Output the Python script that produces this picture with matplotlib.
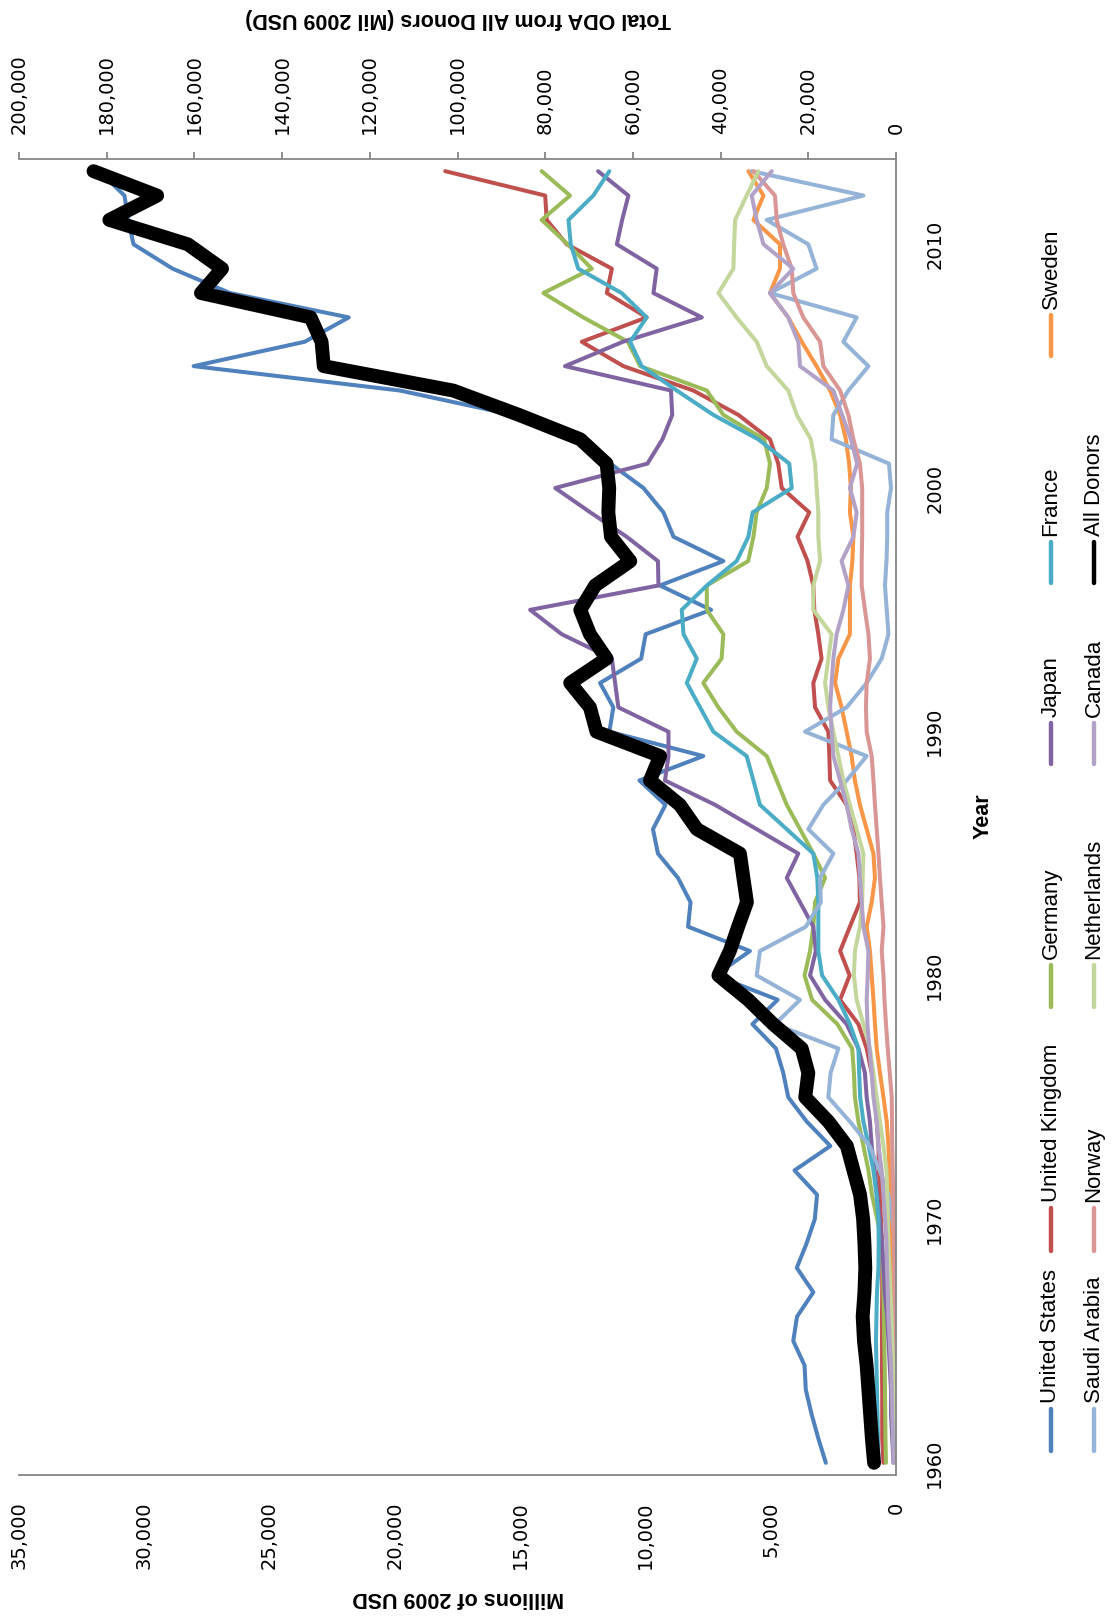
import matplotlib
matplotlib.use('Agg')
import matplotlib.pyplot as plt
from matplotlib.lines import Line2D
from matplotlib.ticker import FuncFormatter

# ODA by donor, millions of 2009 USD
years = list(range(1960, 2014))

united_states = [2800, 3100, 3370, 3600, 3650, 4100, 3950, 3300, 3960, 3570,
                 3240, 3150, 4050, 2620, 3560, 4300, 4500, 4790, 5730, 4720,
                 7220, 5830, 8300, 8200, 8700, 9500, 9700, 9200, 10240, 7690,
                 11440, 11280, 11810, 10170, 9990, 7380, 9420, 6890, 8880, 9280,
                 10080, 11400, 12950, 15300, 19800, 28030, 23600, 21840, 26580, 28870,
                 30430, 30640, 30790, 31800]
united_kingdom = [500, 550, 550, 550, 560, 560, 560, 550, 550, 560,
                  600, 640, 680, 700, 770, 840, 970, 1170, 1500, 2230,
                  1850, 2230, 1840, 1440, 1460, 1570, 1700, 1970, 2630, 2660,
                  2700, 3230, 3300, 2970, 3100, 3260, 3300, 3530, 3930, 3460,
                  4560, 4700, 5030, 6290, 8090, 10880, 12540, 9950, 11540, 11340,
                  13140, 13940, 14000, 17990]
germany = [400, 420, 430, 440, 450, 470, 480, 500, 520, 560,
           750, 960, 1100, 1300, 1500, 1640, 1680, 1750, 2340, 3350,
           3650, 3430, 3300, 3230, 2830, 3300, 3830, 4360, 4760, 5160,
           6360, 7090, 7690, 6960, 6890, 7550, 7550, 5900, 5690, 5560,
           5160, 5030, 5260, 6890, 7550, 10210, 10700, 12480, 14070, 12140,
           13100, 14140, 13010, 14140]
japan = [100, 150, 200, 200, 250, 300, 350, 450, 500, 550,
         650, 750, 850, 970, 1040, 1170, 1240, 1500, 1970, 2830,
         3430, 3200, 3300, 3830, 4360, 3900, 5560, 7220, 9220, 9080,
         9080, 11080, 11210, 11340, 13340, 14600, 9480, 9500, 10750, 12200,
         13600, 9920, 9320, 8930, 8980, 13210, 10900, 7750, 9680, 9550,
         11140, 10930, 10680, 11890]
france = [700, 720, 740, 760, 780, 800, 780, 760, 700, 690,
          700, 780, 900, 1090, 1300, 1430, 1470, 1500, 1840, 2300,
          2950, 3100, 3100, 3100, 3140, 3300, 4360, 5430, 5690, 5960,
          7290, 7820, 8350, 7950, 8480, 8550, 7550, 6360, 5890, 5720,
          4160, 4260, 5500, 7290, 8750, 10150, 10610, 9950, 10950, 12680,
          12980, 13070, 12080, 11440]
sweden = [30, 40, 50, 60, 80, 100, 120, 140, 170, 200,
          220, 240, 260, 300, 370, 500, 640, 770, 840, 900,
          970, 1040, 1170, 970, 840, 900, 1170, 1440, 1640, 1770,
          1970, 2170, 2430, 2300, 1840, 1840, 1840, 1740, 1700, 1840,
          1800, 1870, 2000, 2230, 2630, 3170, 3760, 4300, 5030, 4630,
          4630, 5690, 5290, 5890]
saudi_arabia = [0, 0, 0, 0, 0, 0, 0, 0, 0, 0,
                150, 300, 650, 1050, 1840, 2700, 2610, 2300, 4830, 3830,
                5560, 5430, 3600, 3000, 3030, 2500, 3500, 2900, 1970, 1170,
                3630, 1970, 1170, 570, 300, 370, 440, 380, 350, 350,
                200, 280, 2570, 2500, 1900, 1100, 2100, 1570, 5030, 3170,
                3500, 5160, 1300, 5760]
norway = [10, 15, 20, 25, 30, 40, 50, 60, 70, 80,
          100, 110, 130, 150, 160, 170, 250, 330, 400, 460,
          500, 570, 500, 570, 640, 700, 770, 840, 900, 970,
          1170, 1200, 1170, 1040, 1100, 1240, 1370, 1370, 1350, 1350,
          1350, 1440, 1700, 1900, 2230, 2900, 3030, 3700, 4100, 4160,
          4500, 4760, 4830, 5690]
netherlands = [50, 60, 80, 90, 110, 150, 180, 220, 260, 300,
               330, 350, 380, 500, 640, 770, 900, 1040, 1300, 1570,
               1680, 1640, 1440, 1350, 1330, 1300, 1570, 1840, 2100, 2300,
               2500, 2700, 2830, 2700, 2570, 3300, 3300, 3030, 3100, 3100,
               3170, 3230, 3400, 3960, 4300, 5160, 5560, 6360, 7090, 6490,
               6460, 6420, 5960, 5490]
canada = [100, 120, 150, 170, 200, 250, 300, 330, 360, 380,
          440, 500, 570, 700, 770, 900, 970, 1060, 1140, 1170,
          1130, 1100, 1300, 1370, 1440, 1500, 1770, 1970, 2230, 2500,
          2570, 2630, 2570, 2500, 2370, 2100, 1900, 2170, 1700, 1570,
          1840, 1550, 1800, 2150, 2500, 3830, 3900, 4300, 5030, 4100,
          5290, 5560, 5760, 4960]
# total from all donors, plotted against the secondary axis
all_donors = [5000, 5500, 5900, 6300, 6700, 7300, 7600, 7200, 7000, 7200,
              7500, 8200, 9700, 11200, 15400, 20700, 20000, 21500, 28000, 33700,
              40500, 37900, 36000, 34000, 34800, 35600, 45400, 49300, 56100, 53800,
              68300, 69800, 74300, 66000, 69800, 72000, 68600, 60600, 65000, 65600,
              65400, 66000, 72000, 86000, 101000, 130500, 131000, 133500, 158500, 153700,
              161500, 179400, 168500, 183000]

names = ["United States", "United Kingdom", "Germany", "Japan", "France", "Sweden",
         "Saudi Arabia", "Norway", "Netherlands", "Canada"]
values = [united_states, united_kingdom, germany, japan, france, sweden,
          saudi_arabia, norway, netherlands, canada]
colors = ["#4F81BD", "#C0504D", "#9BBB59", "#8064A2", "#4BACC6", "#F79646",
          "#95B3D7", "#D99694", "#C3D69B", "#B3A2C7"]

W, H = 1112, 1619
GRAY = "#868686"
fig = plt.figure(figsize=(W / 100, H / 100), dpi=100)

# chart is drawn turned on its side: years go up, values go left
ax = fig.add_axes([19 / W, 1 - 1475 / H, (896 - 19) / W, (1475 - 159) / H])
for vals, col in zip(values, colors):
    ax.plot(vals, years, color=col, lw=2.9,
            solid_joinstyle='round', solid_capstyle='round')
ax.set_xlim(35000, 0)
ax.set_ylim(1959.5, 2013.5)

ax2 = ax.twiny()
ax2.plot(all_donors, years, color='black', lw=10,
         solid_joinstyle='round', solid_capstyle='round')
ax2.set_xlim(200000, 0)
ax2.set_ylim(1959.5, 2013.5)

thousands = FuncFormatter(lambda v, p: f"{v:,.0f}")

for s in ['left', 'top']:
    ax.spines[s].set_visible(False)
for s in ['bottom', 'right']:
    ax.spines[s].set_color(GRAY)
    ax.spines[s].set_linewidth(1.3)
for s in ['left', 'bottom', 'right']:
    ax2.spines[s].set_visible(False)
ax2.spines['top'].set_color(GRAY)
ax2.spines['top'].set_linewidth(1.3)

ax.set_xticks(range(0, 35001, 5000))
ax.xaxis.set_major_formatter(thousands)
ax.tick_params(axis='x', length=0, pad=19, labelrotation=90, labelsize=14)

ax2.set_xticks(range(0, 200001, 20000))
ax2.xaxis.set_major_formatter(thousands)
ax2.tick_params(axis='x', length=5, width=1.3, color=GRAY, direction='out',
                pad=13, labelrotation=90, labelsize=14)

ax.yaxis.tick_right()
ax.set_yticks(range(1960, 2011, 10))
ax.tick_params(axis='y', length=0, pad=21, labelrotation=90, labelsize=14)
for lab in ax.get_yticklabels():
    lab.set_va('center')
ax2.tick_params(axis='y', which='both', left=False, right=False,
                labelleft=False, labelright=False)

title_font = dict(family=['Liberation Sans', 'DejaVu Sans'],
                  weight='bold', fontsize=15.5)
fig.text(458 / W, 1 - 1597 / H, "Millions of 2009 USD", rotation=180,
         ha='center', va='center', **title_font)
fig.text(458 / W, 1 - 18 / H, "Total ODA from All Donors (Mil 2009 USD)",
         rotation=180, ha='center', va='center', **title_font)
fig.text(983 / W, 1 - 816 / H, "Year", rotation=90,
         ha='center', va='center', **title_font)

# legend, built by hand because it is turned like the chart
leg_names = names + ["All Donors"]
leg_colors = colors + ["black"]
row_x = [1051, 1094]
col_marks = [(1409, 1451), (1208, 1251), (965, 1007), (723, 764), (542, 583), (315, 356)]
for k, (nm, col) in enumerate(zip(leg_names, leg_colors)):
    row, c = divmod(k, 6)
    y0, y1 = col_marks[c]
    x = row_x[row] / W
    fig.add_artist(Line2D([x, x], [1 - y0 / H, 1 - y1 / H], color=col, lw=3.2,
                          solid_capstyle='round', transform=fig.transFigure))
    fig.text(x, 1 - (y0 - 6) / H, nm, rotation=90, ha='center', va='bottom',
             family=['Liberation Sans', 'DejaVu Sans'], fontsize=16)

fig.savefig('out.png', dpi=100)
